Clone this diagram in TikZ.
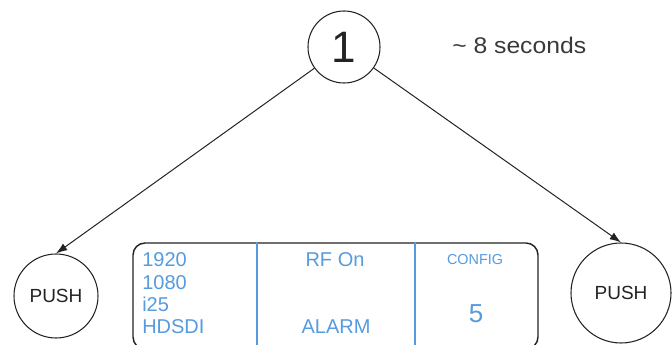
\documentclass[tikz,border=0pt]{standalone}
\usepackage{fontspec}
\setmainfont{Liberation Sans}
\usetikzlibrary{arrows.meta}
\definecolor{lcd}{RGB}{85,155,222}
\definecolor{ink}{RGB}{35,35,35}
\begin{document}
\begin{tikzpicture}[x=0.75pt,y=-0.75pt,
  state/.style={circle,draw=ink,line width=0.8pt,inner sep=0pt,text=ink},
  conn/.style={draw=ink,line width=0.75pt,-{Latex[length=8.5pt,width=6pt]}},
  lcdtxt/.style={text=lcd,inner sep=0pt,font=\fontsize{15}{17}\selectfont},
  divider/.style={draw=lcd,line width=1.1pt},
  pushtxt/.style={font=\fontsize{14.25}{16}\selectfont}
]
\useasboundingbox (0,0) rectangle (672,345);
\clip (0,0) rectangle (672,345);
% top state
\node[state,minimum size=54pt,font=\fontsize{33}{36}\selectfont] (one) at (344,47) {1};
\node[anchor=base west,inner sep=0pt,text=ink!90,font=\fontsize{17}{19}\selectfont] (time) at (452,54) {\scalebox{1.09}[1]{\textasciitilde\ 8 seconds}};
% push buttons
\node[state,minimum size=63pt,pushtxt] (lpush) at (56,296) {PUSH};
\node[state,minimum size=75pt,pushtxt] (rpush) at (621,293) {PUSH};
% display box
\node[draw=ink,line width=1.1pt,rounded corners=9pt,minimum width=303.75pt,minimum height=79.5pt,inner sep=0pt] (box) at (335.5,296) {};
\coordinate (d1) at (257,0);
\coordinate (d2) at (415,0);
\draw[divider] (box.north -| d1) -- (box.south -| d1);
\draw[divider] (box.north -| d2) -- (box.south -| d2);
% texts in display
\node[lcdtxt,anchor=base west] (t1920) at (142,267) {1920};
\node[lcdtxt,anchor=base west] (t1080) at (142,290) {1080};
\node[lcdtxt,anchor=base west] (ti25) at (142,312) {i25};
\node[lcdtxt,anchor=base west] (thd) at (142,334) {HDSDI};
\node[lcdtxt,anchor=base] (trf) at (335,267) {RF On};
\node[lcdtxt,anchor=base] (talarm) at (336,334) {ALARM};
\node[lcdtxt,anchor=base,font=\fontsize{10.8}{12}\selectfont] (tcfg) at (475,265) {CONFIG};
\node[lcdtxt,anchor=base,font=\fontsize{19.5}{22}\selectfont] (tfive) at (476,323) {5};
% connectors
\draw[conn] (one) -- (lpush.north);
\draw[conn] (one) -- (rpush.north);
\end{tikzpicture}
\end{document}
